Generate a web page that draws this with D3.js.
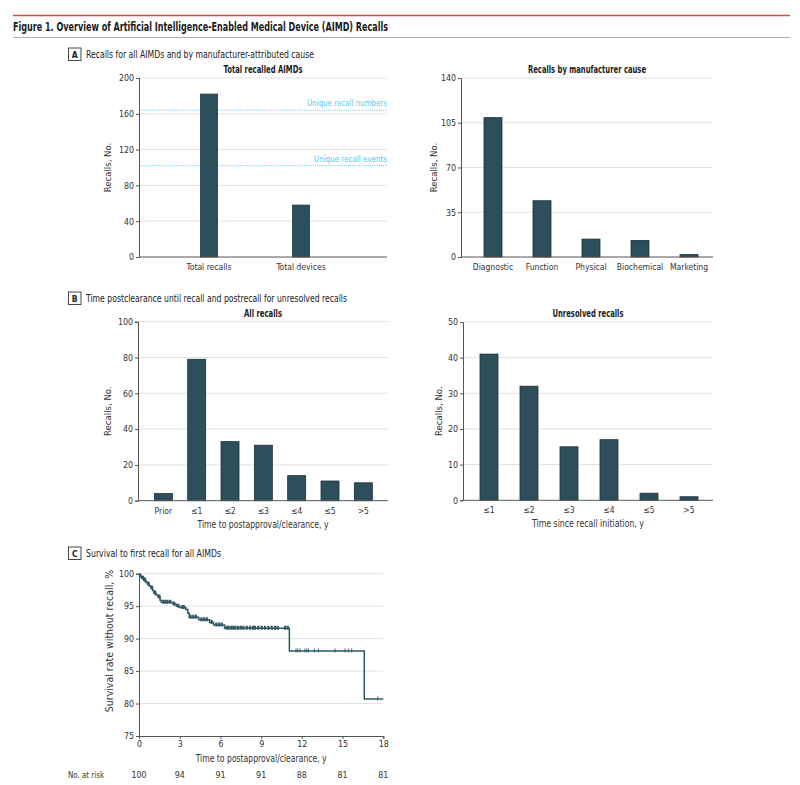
<!DOCTYPE html>
<html>
<head>
<meta charset="utf-8">
<script src="https://cdn.jsdelivr.net/npm/d3@7"></script>
<style>
  html, body { margin: 0; padding: 0; background: #fff; }
  svg text { font-family: "Liberation Sans Narrow", "DejaVu Sans Condensed", "Roboto Condensed", "Liberation Sans", sans-serif; font-stretch: condensed; }
</style>
</head>
<body>
<svg id="chart" width="800" height="785"></svg>
<script>
// ---------------- DATA ----------------
const totalCats = ["Total recalls", "Total devices"];
const totalVals = [182, 58];
const totalTicks = [0, 40, 80, 120, 160, 200];
const refVals = [164, 102];
const refLabels = ["Unique recall numbers", "Unique recall events"];

const causeCats = ["Diagnostic", "Function", "Physical", "Biochemical", "Marketing"];
const causeVals = [109, 44, 14, 13, 2];
const causeTicks = [0, 35, 70, 105, 140];

const timeCats = ["Prior", "≤1", "≤2", "≤3", "≤4", "≤5", ">5"];
const timeVals = [4, 79, 33, 31, 14, 11, 10];
const timeTicks = [0, 20, 40, 60, 80, 100];

const unresCats = ["≤1", "≤2", "≤3", "≤4", "≤5", ">5"];
const unresVals = [41, 32, 15, 17, 2, 1];
const unresTicks = [0, 10, 20, 30, 40, 50];

// Kaplan-Meier step curve (time in years, survival %)
const kmTimes = [0, 0.05, 0.2, 0.35, 0.5, 0.62, 0.75, 0.88, 1.0, 1.1, 1.25, 1.4, 1.55, 1.65, 2.5, 2.75, 3.0, 3.45, 3.6, 3.7, 4.4, 5.2, 5.5, 6.3, 11.08, 16.6];
const kmSurv  = [100, 99.6, 99.3, 99.0, 98.7, 98.4, 98.1, 97.8, 97.4, 97.0, 96.7, 96.4, 95.9, 95.6, 95.3, 95.0, 94.8, 94.5, 93.9, 93.3, 92.9, 92.5, 92.1, 91.6, 88.1, 80.7];
const kmEnd = 18;
const censorTimes = [0.1, 0.3, 0.45, 0.7, 0.95, 1.2, 1.5, 1.8, 1.95, 2.1, 2.3, 2.6, 2.9, 3.2, 3.3, 3.8, 4.0, 4.2, 4.6, 4.8, 5.0, 5.35, 5.7, 5.9, 6.1,
  6.45, 6.6, 6.8, 6.95, 7.1, 7.3, 7.5, 7.69, 7.94, 8.18, 8.4, 8.55, 8.79, 9.04, 9.28, 9.53, 9.78, 10.02, 10.22, 10.76, 10.96,
  11.57, 11.69, 11.86, 12.23, 12.36, 12.48, 12.92, 13.21, 14.44, 15.18, 15.42, 15.67, 17.59];
const kmXTicks = [0, 3, 6, 9, 12, 15, 18];
const kmYTicks = [75, 80, 85, 90, 95, 100];
const riskTimes = [0, 3, 6, 9, 12, 15, 18];
const riskCounts = [100, 94, 91, 91, 88, 81, 81];

// ---------------- STYLE ----------------
const BAR = "#2d4f5b", BAR_STROKE = "#1c3038", GRID = "#e2e2e2", AXIS = "#555", TXT = "#333", REF = "#5cc6ea", KM = "#2f5664";

const svg = d3.select("#chart");
function fit(sel, w) { return sel.attr("textLength", w).attr("lengthAdjust", "spacingAndGlyphs"); }

// Top rules and title
svg.append("line").attr("x1", 13).attr("x2", 790).attr("y1", 15.5).attr("y2", 15.5).attr("stroke", "#e8443a").attr("stroke-width", 1.3);
fit(svg.append("text").attr("x", 13).attr("y", 31).attr("font-size", 12.5).attr("font-weight", "bold").attr("fill", "#1a1a1a")
  .text("Figure 1. Overview of Artificial Intelligence-Enabled Medical Device (AIMD) Recalls"), 375);
svg.append("line").attr("x1", 13).attr("x2", 790).attr("y1", 37.5).attr("y2", 37.5).attr("stroke", "#999").attr("stroke-width", 0.8);

function panelLabel(letter, text, y, w) {
  const g = svg.append("g");
  g.append("rect").attr("x", 68.5).attr("y", y - 6).attr("width", 12.5).attr("height", 12.5).attr("fill", "#fff").attr("stroke", "#333").attr("stroke-width", 0.9);
  g.append("text").attr("x", 74.75).attr("y", y + 3.5).attr("text-anchor", "middle").attr("font-size", 8.5).attr("font-weight", "bold").attr("fill", "#222").text(letter);
  fit(g.append("text").attr("x", 86).attr("y", y + 3.5).attr("font-size", 10.5).attr("fill", "#222").text(text), w);
}

panelLabel("A", "Recalls for all AIMDs and by manufacturer-attributed cause", 54, 228);
panelLabel("B", "Time postclearance until recall and postrecall for unresolved recalls", 298, 261);
panelLabel("C", "Survival to first recall for all AIMDs", 553, 135);

function barChart(cfg) {
  const g = svg.append("g");
  const y = d3.scaleLinear().domain([cfg.ticks[0], cfg.ticks[cfg.ticks.length - 1]]).range([cfg.bottom, cfg.top]);
  const step = (cfg.band[1] - cfg.band[0]) / cfg.cats.length;
  const pad = 1 - cfg.barW / step;
  const x = d3.scaleBand().domain(cfg.cats).range(cfg.band).paddingInner(pad).paddingOuter(pad / 2);

  // grid
  g.selectAll(".grid").data(cfg.ticks.filter(t => t !== cfg.ticks[0])).join("line")
    .attr("x1", cfg.x0).attr("x2", cfg.x1).attr("y1", d => y(d)).attr("y2", d => y(d))
    .attr("stroke", GRID).attr("stroke-width", 1);

  // reference lines
  if (cfg.refs) {
    cfg.refs.forEach((r, i) => {
      g.append("line").attr("x1", cfg.x0).attr("x2", cfg.x1).attr("y1", y(r)).attr("y2", y(r))
        .attr("stroke", REF).attr("stroke-width", 1).attr("stroke-dasharray", "1,1.2");
      fit(g.append("text").attr("x", cfg.x1 - cfg.refW[i]).attr("y", y(r) - 4)
        .attr("font-size", 9.5).attr("fill", REF).text(cfg.refLabels[i]), cfg.refW[i]);
    });
  }

  // bars
  g.selectAll(".bar").data(cfg.vals).join("rect")
    .attr("x", (d, i) => x(cfg.cats[i]))
    .attr("width", x.bandwidth())
    .attr("y", d => y(d))
    .attr("height", d => y(cfg.ticks[0]) - y(d))
    .attr("fill", BAR).attr("stroke", BAR_STROKE).attr("stroke-width", 0.8);

  // y axis
  const ya = g.append("g").attr("transform", `translate(${cfg.x0},0)`)
    .call(d3.axisLeft(y).tickValues(cfg.ticks).tickSize(3).tickPadding(2));
  ya.select(".domain").attr("stroke", AXIS);
  ya.selectAll(".tick line").attr("stroke", AXIS);
  ya.selectAll(".tick text").attr("font-size", 8.8).attr("fill", TXT).attr("font-family", null);

  // x axis baseline
  g.append("line").attr("x1", cfg.x0).attr("x2", cfg.x1).attr("y1", y(cfg.ticks[0])).attr("y2", y(cfg.ticks[0]))
    .attr("stroke", AXIS).attr("stroke-width", 1);
  const xa = g.append("g").attr("transform", `translate(0,${cfg.bottom})`)
    .call(d3.axisBottom(x).tickSize(0).tickPadding(7));
  xa.select(".domain").remove();
  xa.selectAll(".tick text").attr("font-size", 8.5).attr("fill", TXT).attr("font-family", null);

  // titles
  fit(g.append("text").attr("x", (cfg.x0 + cfg.x1) / 2 - cfg.titleW / 2).attr("y", cfg.top - 5)
    .attr("font-size", 10).attr("font-weight", "bold").attr("fill", "#222").text(cfg.title), cfg.titleW);
  g.append("text").attr("transform", `translate(${cfg.yLabelX},${(cfg.top + cfg.bottom) / 2}) rotate(-90)`)
    .attr("text-anchor", "middle").attr("font-size", 9.5).attr("fill", TXT).text("Recalls, No.");
  if (cfg.xTitle) {
    fit(g.append("text").attr("x", (cfg.x0 + cfg.x1) / 2 - cfg.xTitleW / 2).attr("y", cfg.bottom + 27)
      .attr("font-size", 10).attr("fill", TXT).text(cfg.xTitle), cfg.xTitleW);
  }
}

barChart({ cats: totalCats, vals: totalVals, ticks: totalTicks, refs: refVals, refLabels: refLabels, refW: [80, 73],
  x0: 139, x1: 387, top: 78, bottom: 257, band: [163, 347], barW: 17, title: "Total recalled AIMDs", titleW: 79, yLabelX: 110.5 });
barChart({ cats: causeCats, vals: causeVals, ticks: causeTicks,
  x0: 461, x1: 713, top: 78, bottom: 257, band: [468.5, 713.5], barW: 18, title: "Recalls by manufacturer cause", titleW: 118, yLabelX: 436.5 });
barChart({ cats: timeCats, vals: timeVals, ticks: timeTicks,
  x0: 138, x1: 388, top: 321.7, bottom: 500.7, band: [146.7, 380], barW: 18, title: "All recalls", titleW: 38, yLabelX: 110.5,
  xTitle: "Time to postapproval/clearance, y", xTitleW: 131 });
barChart({ cats: unresCats, vals: unresVals, ticks: unresTicks,
  x0: 463, x1: 713, top: 322, bottom: 500.3, band: [469, 709], barW: 18, title: "Unresolved recalls", titleW: 71, yLabelX: 441.5,
  xTitle: "Time since recall initiation, y", xTitleW: 112 });

// ---------------- KM panel ----------------
(function () {
  const g = svg.append("g");
  const x = d3.scaleLinear().domain([0, 18]).range([139, 383.3]);
  const y = d3.scaleLinear().domain([75, 100]).range([736, 573.7]);

  g.selectAll(".grid").data(kmYTicks.filter(t => t !== 75)).join("line")
    .attr("x1", x(0)).attr("x2", x(18)).attr("y1", d => y(d)).attr("y2", d => y(d))
    .attr("stroke", GRID).attr("stroke-width", 1);

  const pts = kmTimes.map((t, i) => [t, kmSurv[i]]);
  pts.push([kmEnd, kmSurv[kmSurv.length - 1]]);
  const line = d3.line().x(d => x(d[0])).y(d => y(d[1])).curve(d3.curveStepAfter);
  g.append("path").datum(pts).attr("d", line).attr("fill", "none").attr("stroke", KM).attr("stroke-width", 1.5);

  const survAt = t => kmSurv[d3.bisectRight(kmTimes, t) - 1];
  g.selectAll(".cens").data(censorTimes).join("line")
    .attr("x1", d => x(d)).attr("x2", d => x(d))
    .attr("y1", d => y(survAt(d)) - 2.5).attr("y2", d => y(survAt(d)) + 1.5)
    .attr("stroke", KM).attr("stroke-width", d => d < 11 ? 2.2 : 0.9);

  const ya = g.append("g").attr("transform", `translate(${x(0)},0)`)
    .call(d3.axisLeft(y).tickValues(kmYTicks).tickSize(3).tickPadding(2));
  ya.select(".domain").attr("stroke", AXIS);
  ya.selectAll(".tick line").attr("stroke", AXIS);
  ya.selectAll(".tick text").attr("font-size", 8.8).attr("fill", TXT).attr("font-family", null);

  const xa = g.append("g").attr("transform", `translate(0,${y(75)})`)
    .call(d3.axisBottom(x).tickValues(kmXTicks).tickSize(3).tickPadding(2));
  xa.select(".domain").attr("stroke", AXIS);
  xa.selectAll(".tick line").attr("stroke", AXIS);
  xa.selectAll(".tick text").attr("font-size", 8.8).attr("fill", TXT).attr("font-family", null);

  fit(g.append("text").attr("x", (x(0) + x(18)) / 2 - 65.5).attr("y", 762)
    .attr("font-size", 10).attr("fill", TXT).text("Time to postapproval/clearance, y"), 131);
  g.append("text").attr("transform", `translate(113,641) rotate(-90)`)
    .attr("text-anchor", "middle").attr("font-size", 10.5).attr("fill", TXT).text("Survival rate without recall, %");

  fit(g.append("text").attr("x", 68).attr("y", 778).attr("font-size", 9).attr("fill", TXT).text("No. at risk"), 36);
  g.selectAll(".risk").data(riskCounts).join("text")
    .attr("x", (d, i) => x(riskTimes[i])).attr("y", 778).attr("text-anchor", "middle")
    .attr("font-size", 8.8).attr("fill", TXT).text(d => d);
})();
</script>
</body>
</html>
